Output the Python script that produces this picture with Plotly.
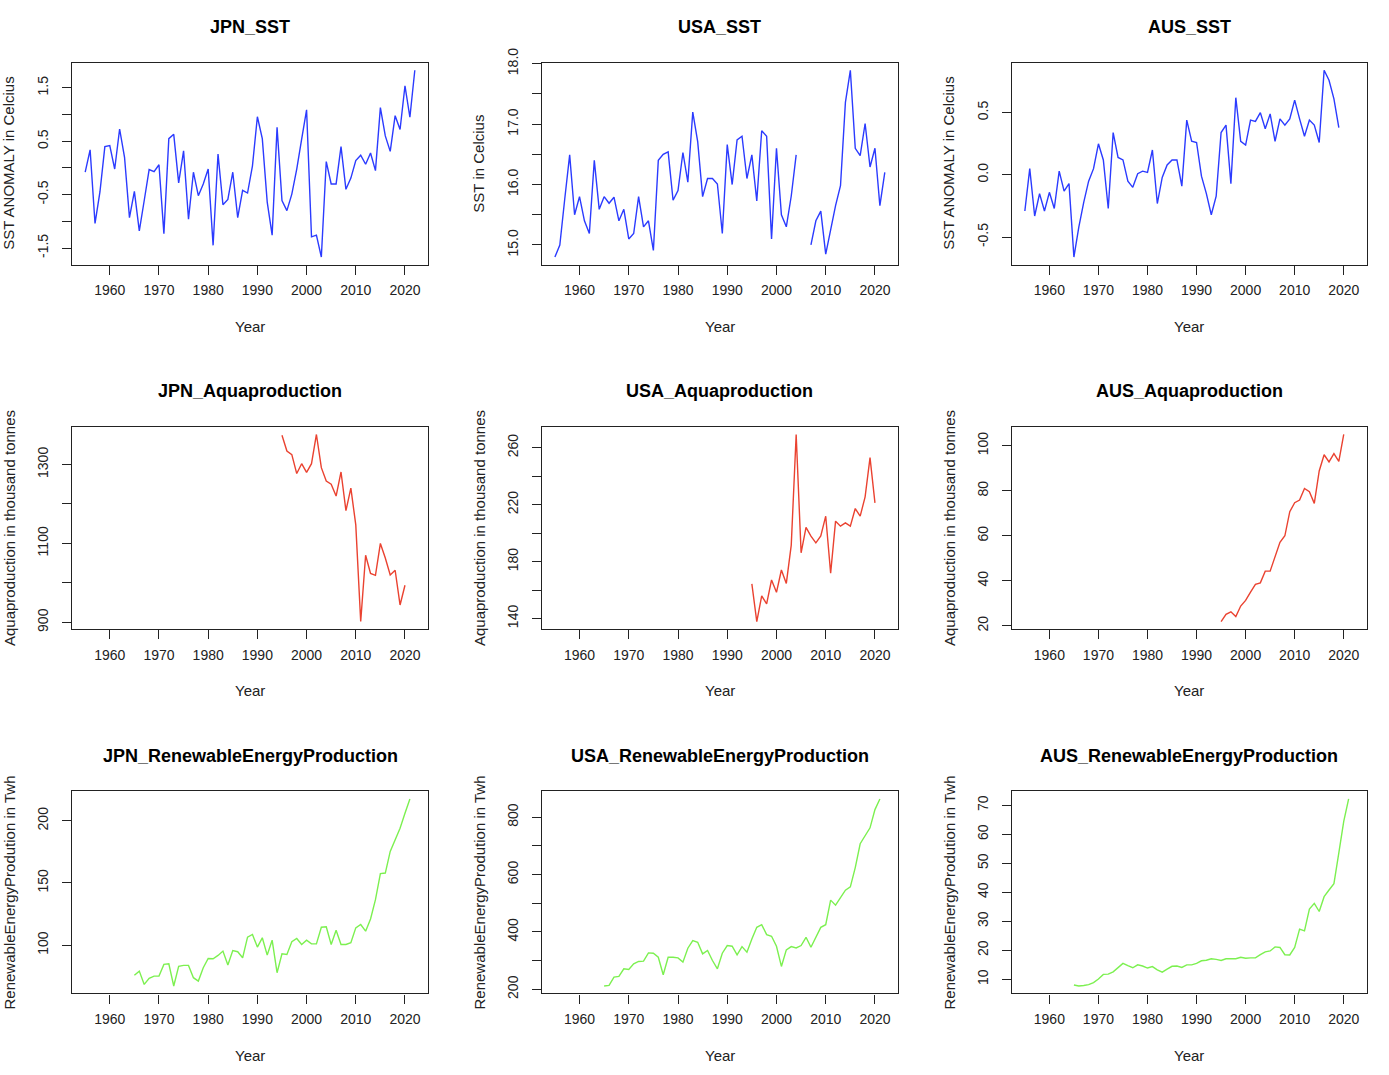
import plotly.graph_objects as go

# ---------------- data ----------------
sst_years = list(range(1955, 2023))          # 1955..2022
aus_sst_years = list(range(1955, 2020))      # 1955..2019
aqua_years = list(range(1995, 2021))         # 1995..2020
ren_years = list(range(1965, 2022))          # 1965..2021

jpn_sst = [-0.08, 0.34, -1.04, -0.45, 0.40, 0.42, -0.02, 0.73, 0.20, -0.93,
           -0.44, -1.18, -0.61, -0.03, -0.07, 0.06, -1.23, 0.55, 0.63, -0.28,
           0.32, -0.96, -0.08, -0.52, -0.30, -0.02, -1.45, 0.26, -0.69, -0.59,
           -0.08, -0.93, -0.42, -0.47, 0.04, 0.96, 0.55, -0.64, -1.26, 0.76,
           -0.61, -0.80, -0.49, -0.02, 0.54, 1.09, -1.29, -1.26, -1.67, 0.12,
           -0.30, -0.30, 0.40, -0.40, -0.19, 0.14, 0.24, 0.07, 0.28, -0.05,
           1.13, 0.60, 0.31, 0.98, 0.72, 1.54, 0.95, 1.83]

usa_sst = [14.80, 15.00, 15.76, 16.49, 15.50, 15.80, 15.40, 15.19, 16.40, 15.59,
           15.80, 15.69, 15.79, 15.40, 15.59, 15.10, 15.19, 15.80, 15.30, 15.40,
           14.91, 16.40, 16.50, 16.54, 15.74, 15.90, 16.53, 16.04, 17.20, 16.71,
           15.80, 16.10, 16.10, 16.01, 15.19, 16.66, 16.00, 16.74, 16.80, 16.10,
           16.49, 15.73, 16.89, 16.80, 15.10, 16.60, 15.50, 15.30, 15.81, 16.49,
           None, None, 15.00, 15.40, 15.56, 14.85, 15.25, 15.65, 15.98, 17.36,
           17.89, 16.60, 16.48, 17.01, 16.29, 16.60, 15.65, 16.20]

aus_sst = [-0.29, 0.05, -0.33, -0.15, -0.29, -0.14, -0.27, 0.03, -0.13, -0.07,
           -0.66, -0.42, -0.22, -0.05, 0.05, 0.25, 0.12, -0.27, 0.34, 0.14,
           0.12, -0.05, -0.10, 0.01, 0.03, 0.02, 0.20, -0.23, -0.02, 0.08,
           0.12, 0.12, -0.09, 0.44, 0.27, 0.26, -0.01, -0.15, -0.32, -0.17,
           0.34, 0.40, -0.07, 0.62, 0.27, 0.24, 0.44, 0.43, 0.50, 0.37,
           0.49, 0.27, 0.45, 0.40, 0.45, 0.60, 0.45, 0.31, 0.44, 0.40,
           0.26, 0.84, 0.76, 0.61, 0.38]

jpn_aqua = [1374, 1334, 1325, 1277, 1302, 1280, 1302, 1376, 1292, 1258,
            1250, 1220, 1281, 1183, 1240, 1147, 902, 1070, 1024, 1019,
            1100, 1063, 1020, 1032, 944, 994]

usa_aqua = [164.3, 137.9, 155.9, 150.3, 167.1, 158.4, 174.1, 164.7, 191.6, 269.3,
            186.2, 204.0, 197.9, 193.2, 198.1, 211.9, 171.8, 208.4, 204.9, 207.2,
            204.9, 217.3, 211.9, 225.5, 253.0, 221.3]

aus_aqua = [21.9, 25.1, 26.2, 24.1, 28.8, 31.3, 35.0, 38.4, 39.1, 44.3,
            44.3, 51.2, 57.1, 60.0, 70.7, 74.7, 75.9, 81.0, 79.6, 74.4,
            88.8, 96.0, 92.8, 96.5, 93.1, 105.0]

jpn_ren = [75.7, 79.1, 68.4, 73.3, 75.1, 75.1, 84.5, 85.0, 67.1, 82.9,
           83.7, 83.7, 73.8, 71.1, 81.8, 89.3, 89.0, 91.7, 95.2, 84.0,
           95.7, 94.7, 89.8, 106.4, 108.6, 98.4, 105.9, 92.0, 104.0, 77.8,
           93.0, 92.5, 102.7, 105.3, 100.5, 104.0, 101.0, 101.0, 114.4, 114.7,
           100.5, 112.0, 100.5, 100.5, 101.9, 113.9, 116.6, 111.2, 121.1, 136.6,
           157.5, 158.0, 175.4, 184.8, 194.1, 206.1, 217.6]

usa_ren = [211.6, 213.9, 242.8, 245.1, 271.7, 269.4, 289.0, 297.1, 298.3, 327.2,
           326.0, 312.1, 250.9, 312.1, 312.1, 309.8, 294.8, 343.4, 369.9, 364.2,
           323.7, 335.3, 300.6, 271.7, 326.0, 352.6, 350.3, 320.2, 349.1, 329.5,
           375.7, 416.2, 425.4, 390.8, 385.0, 350.3, 279.8, 337.6, 349.1, 344.5,
           352.6, 381.5, 346.8, 379.2, 416.2, 425.4, 511.0, 493.6, 520.2, 545.7,
           557.2, 624.3, 707.5, 734.1, 763.0, 826.6, 863.6]

aus_ren = [8.05, 7.7, 7.9, 8.2, 8.9, 10.1, 11.7, 11.8, 12.6, 14.1,
           15.5, 14.7, 14.0, 15.0, 14.6, 13.9, 14.4, 13.3, 12.5, 13.5,
           14.5, 14.6, 14.1, 15.0, 15.0, 15.5, 16.4, 16.6, 17.1, 16.9,
           16.5, 17.1, 17.1, 17.1, 17.6, 17.3, 17.4, 17.4, 18.5, 19.5,
           19.8, 21.2, 21.0, 18.5, 18.4, 21.0, 27.3, 26.7, 34.2, 36.2,
           33.4, 38.5, 40.8, 43.0, 53.6, 64.5, 72.2]

x_tickvals = [1960, 1970, 1980, 1990, 2000, 2010, 2020]
x_ticktext = ["1960", "1970", "1980", "1990", "2000", "2010", "2020"]

titles = ["JPN_SST", "USA_SST", "AUS_SST",
          "JPN_Aquaproduction", "USA_Aquaproduction", "AUS_Aquaproduction",
          "JPN_RenewableEnergyProduction", "USA_RenewableEnergyProduction",
          "AUS_RenewableEnergyProduction"]
ylabels = ["SST ANOMALY in Celcius", "SST in Celcius", "SST ANOMALY in Celcius",
           "Aquaproduction in thousand tonnes", "Aquaproduction in thousand tonnes",
           "Aquaproduction in thousand tonnes",
           "RenewableEnergyProdution in Twh", "RenewableEnergyProdution in Twh",
           "RenewableEnergyProdution in Twh"]

y_tickvals = [
    [-1.5, -1.0, -0.5, 0.0, 0.5, 1.0, 1.5],
    [15.0, 15.5, 16.0, 16.5, 17.0, 17.5, 18.0],
    [-0.5, 0.0, 0.5],
    [900, 1000, 1100, 1200, 1300],
    [140, 160, 180, 200, 220, 240, 260],
    [20, 40, 60, 80, 100],
    [100, 150, 200],
    [200, 300, 400, 500, 600, 700, 800],
    [10, 20, 30, 40, 50, 60, 70],
]
y_ticktext = [
    ["-1.5", "", "-0.5", "", "0.5", "", "1.5"],
    ["15.0", "", "16.0", "", "17.0", "", "18.0"],
    ["-0.5", "0.0", "0.5"],
    ["900", "", "1100", "", "1300"],
    ["140", "", "180", "", "220", "", "260"],
    ["20", "40", "60", "80", "100"],
    ["100", "150", "200"],
    ["200", "", "400", "", "600", "", "800"],
    ["10", "20", "30", "40", "50", "60", "70"],
]

series = [
    (sst_years, jpn_sst), (sst_years, usa_sst), (aus_sst_years, aus_sst),
    (aqua_years, jpn_aqua), (aqua_years, usa_aqua), (aqua_years, aus_aqua),
    (ren_years, jpn_ren), (ren_years, usa_ren), (ren_years, aus_ren),
]
colors = ["#2b3bff"] * 3 + ["#ea4230"] * 3 + ["#7cf050"] * 3

# ---------------- layout ----------------
W, H = 1389, 1075
col_px = [(72, 428), (541.7, 898), (1011.7, 1366.7)]
row_px = [(62, 264), (426.7, 629), (791.7, 994)]
ylab_x_px = [9, 479, 949]


def ypx(p):
    # correction for the vertical placement observed in the rendered page
    return (p - 14.1) / 0.9828


def r_range(vals):
    v = [a for a in vals if a is not None]
    lo, hi = min(v), max(v)
    pad = (hi - lo) * 0.04
    return [lo - pad, hi + pad]


xr = r_range(sst_years)
FONT = "Liberation Sans, Arial, Helvetica, sans-serif"
AXC = "#222222"

fig = go.Figure()
layout = dict(
    width=W, height=H, margin=dict(l=0, r=0, t=0, b=0),
    paper_bgcolor="white", plot_bgcolor="white", showlegend=False,
    font=dict(family=FONT, color="#222222", size=14),
)
annotations = []
for i in range(9):
    r, c = divmod(i, 3)
    n = "" if i == 0 else str(i + 1)
    xs, ys = series[i]
    fig.add_trace(go.Scatter(x=xs, y=ys, mode="lines", connectgaps=False,
                             line=dict(color=colors[i], width=1.4),
                             xaxis="x" + n, yaxis="y" + n, hoverinfo="x+y"))
    x0, x1 = col_px[c]
    y0, y1 = row_px[r]
    common = dict(showline=True, mirror=True, linecolor=AXC, linewidth=1.2,
                  ticks="outside", ticklen=9, tickcolor=AXC, tickwidth=1.2,
                  showgrid=False, zeroline=False,
                  tickfont=dict(size=14, color="#222222"))
    layout["xaxis" + n] = dict(domain=[x0 / W, x1 / W], anchor="y" + n,
                               range=xr, tickmode="array", tickvals=x_tickvals,
                               ticktext=x_ticktext, ticklabelstandoff=4, **common)
    layout["yaxis" + n] = dict(domain=[1 - ypx(y1) / H, 1 - ypx(y0) / H], anchor="x" + n,
                               range=r_range(ys), tickmode="array",
                               tickvals=y_tickvals[i], ticktext=y_ticktext[i],
                               tickangle=-90, ticklabelstandoff=8, **common)
    cx = (x0 + x1) / 2 / W
    annotations.append(dict(text="<b>" + titles[i] + "</b>", x=cx, y=1 - ypx(y0 - 36) / H,
                            xref="paper", yref="paper", showarrow=False,
                            xanchor="center", yanchor="middle",
                            font=dict(size=18, color="black", family=FONT)))
    annotations.append(dict(text="Year", x=cx, y=1 - ypx(y1 + 62) / H,
                            xref="paper", yref="paper", showarrow=False,
                            xanchor="center", yanchor="middle",
                            font=dict(size=15, color="#222222", family=FONT)))
    annotations.append(dict(text=ylabels[i], x=ylab_x_px[c] / W,
                            y=1 - ypx((y0 + y1) / 2) / H,
                            xref="paper", yref="paper", showarrow=False, textangle=-90,
                            xanchor="center", yanchor="middle",
                            font=dict(size=15, color="#222222", family=FONT)))

layout["annotations"] = annotations
fig.update_layout(**layout)
fig.write_html("out.html", config={"displayModeBar": False},
               post_script="document.body.style.margin='0';")
